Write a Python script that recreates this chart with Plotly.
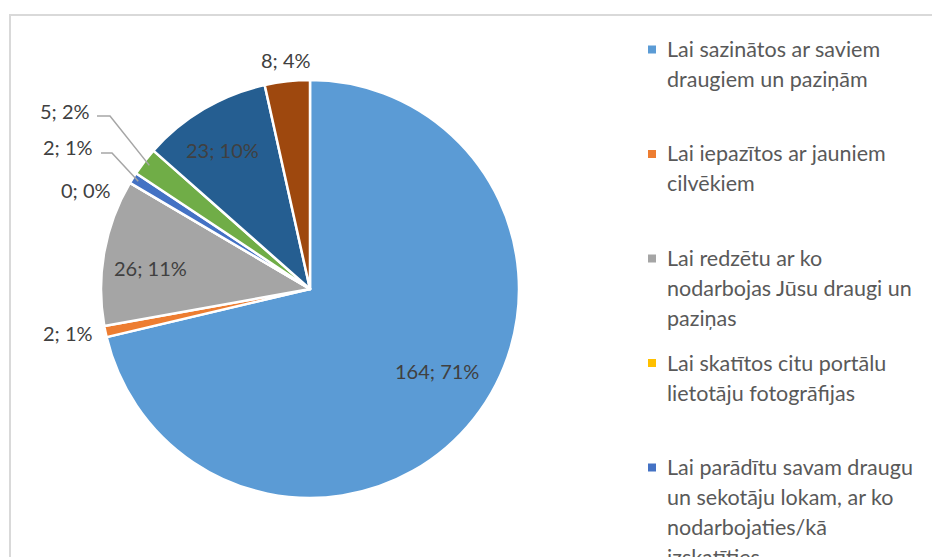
import math
import plotly.graph_objects as go

categories = [
    "Lai sazinātos ar saviem draugiem un paziņām",
    "Lai iepazītos ar jauniem cilvēkiem",
    "Lai redzētu ar ko nodarbojas Jūsu draugi un paziņas",
    "Lai skatītos citu portālu lietotāju fotogrāfijas",
    "Lai parādītu savam draugu un sekotāju lokam, ar ko nodarbojaties/kā izskatīties",
    "Cits 1",
    "Cits 2",
    "Cits 3",
]
legend_lines = [
    ["Lai sazinātos ar saviem", "draugiem un paziņām"],
    ["Lai iepazītos ar jauniem", "cilvēkiem"],
    ["Lai redzētu ar ko", "nodarbojas Jūsu draugi un", "paziņas"],
    ["Lai skatītos citu portālu", "lietotāju fotogrāfijas"],
    ["Lai parādītu savam draugu", "un sekotāju lokam, ar ko", "nodarbojaties/kā", "izskatīties"],
]
values = [164, 2, 26, 0, 2, 5, 23, 8]
percents = [71, 1, 11, 0, 1, 2, 10, 4]
colors = ["#5B9BD5", "#ED7D31", "#A5A5A5", "#FFC000", "#4472C4", "#70AD47", "#255E91", "#9E480E"]

# ---- layout / style (pixels) ----
W, H = 932, 557
FONT = "Lato"
TXT = "#404040"
cx, cy, r = 310, 289, 209
# label placement: (x, y, xanchor, leader line (x1, x2, y) or None)
label_layout = [
    (437, 371, "center", None),
    (95, 333, "right", None),
    (150, 268, "center", None),
    (113, 189.5, "right", None),
    (95, 146.5, "right", (101, 112, 153)),
    (92, 111.5, "right", (97, 110, 116)),
    (222, 149.5, "center", None),
    (286, 60, "center", None),
]

fig = go.Figure(go.Pie(
    labels=categories,
    values=values,
    textinfo="none",
    sort=False,
    direction="clockwise",
    rotation=0,
    marker=dict(colors=colors, line=dict(color="white", width=2.5)),
    showlegend=False,
    domain=dict(x=[(cx - r) / W, (cx + r) / W], y=[(H - cy - r) / H, (H - cy + r) / H]),
))

def px(x):
    return x / W

def py(y):
    return 1 - y / H

annotations = []
shapes = []

# data labels
total = sum(values)
cum = 0
for i, v in enumerate(values):
    mid = (cum + v / 2) / total * 2 * math.pi
    cum += v
    lx, ly, anc, leader = label_layout[i]
    annotations.append(dict(text=f"{v}; {percents[i]}%", xref="paper", yref="paper",
                            x=px(lx), y=py(ly), xanchor=anc, yanchor="middle",
                            showarrow=False, font=dict(family=FONT, size=20, color=TXT)))
    if leader:
        x1, x2, yl = leader
        ex = cx + 0.97 * r * math.sin(mid)
        ey = cy - 0.97 * r * math.cos(mid)
        shapes.append(dict(type="path", xref="paper", yref="paper",
                           path=f"M {px(x1)} {py(yl)} L {px(x2)} {py(yl)} L {px(ex)} {py(ey)}",
                           line=dict(color="#A6A6A6", width=1.5)))

# legend
legend_x = 665
top0 = 49
gap = 104.5
line_h = 30
for i, lines in enumerate(legend_lines):
    ytop = top0 + gap * i
    shapes.append(dict(type="rect", xref="paper", yref="paper",
                       x0=px(648), x1=px(656), y0=py(ytop + 4.5), y1=py(ytop - 3.5),
                       fillcolor=colors[i], line=dict(width=0)))
    for j, ln in enumerate(lines):
        yy = ytop + line_h * j
        annotations.append(dict(text=ln, xref="paper", yref="paper",
                                x=px(legend_x), y=py(yy), xanchor="left", yanchor="middle",
                                showarrow=False, font=dict(family=FONT, size=21.5, color="#595959")))

# chart frame
shapes.append(dict(type="rect", xref="paper", yref="paper",
                   x0=px(10), x1=1.05, y0=-0.1, y1=py(15),
                   line=dict(color="#D9D9D9", width=2), fillcolor="rgba(0,0,0,0)", layer="below"))

fig.update_layout(
    width=W, height=H,
    margin=dict(l=0, r=0, t=0, b=0),
    paper_bgcolor="white", plot_bgcolor="white",
    shapes=shapes, annotations=annotations,
    font=dict(family=FONT),
)
fig.write_html("out.html", config={"displayModeBar": False},
               post_script="document.body.style.margin='0px';")
